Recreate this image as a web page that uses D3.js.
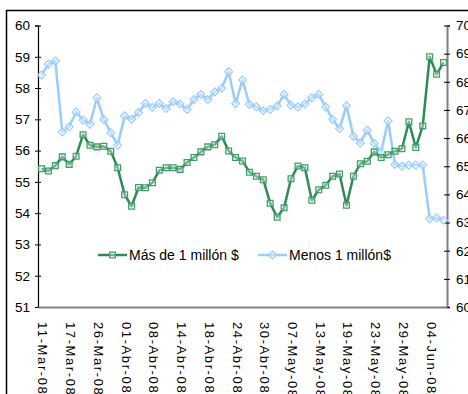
<!DOCTYPE html>
<html>
<head>
<meta charset="utf-8">
<script src="https://cdn.jsdelivr.net/npm/d3@7"></script>
<style>
  html, body { margin: 0; padding: 0; background: #fff; }
  svg { display: block; font-family: "Liberation Sans", Arial, sans-serif; }
</style>
</head>
<body>
<svg id="chart" width="468" height="394"></svg>
<script>
// Category tick labels, one every fourth trading day
const tickLabels = ["11-Mar-08", "17-Mar-08", "26-Mar-08", "01-Abr-08", "08-Abr-08",
  "14-Abr-08", "18-Abr-08", "24-Abr-08", "30-Abr-08", "07-May-08", "13-May-08",
  "19-May-08", "23-May-08", "29-May-08", "04-Jun-08"];
const tickEvery = 4;

// Series: left axis
const masDe1Millon = [
  55.42, 55.35, 55.52, 55.80, 55.56, 55.82, 56.51, 56.17, 56.12, 56.14,
  55.98, 55.45, 54.59, 54.22, 54.82, 54.81, 54.97, 55.37, 55.45, 55.45,
  55.40, 55.62, 55.78, 55.96, 56.12, 56.19, 56.46, 55.99, 55.78, 55.67,
  55.31, 55.18, 55.07, 54.32, 53.87, 54.17, 55.10, 55.51, 55.45, 54.41,
  54.75, 54.89, 55.18, 55.25, 54.25, 55.18, 55.58, 55.66, 55.96, 55.78,
  55.87, 55.98, 56.06, 56.92, 56.10, 56.79, 59.00, 58.44, 58.82
];
// Series: right axis
const menos1Millon = [
  68.24, 68.63, 68.74, 66.22, 66.40, 66.93, 66.64, 66.49, 67.43, 66.66,
  66.19, 65.75, 66.79, 66.67, 66.91, 67.23, 67.09, 67.23, 67.05, 67.29,
  67.21, 67.02, 67.37, 67.55, 67.37, 67.64, 67.77, 68.36, 67.23, 68.06,
  67.20, 67.11, 66.97, 67.02, 67.14, 67.55, 67.17, 67.11, 67.21, 67.43,
  67.55, 67.11, 66.66, 66.34, 67.15, 66.07, 65.83, 66.28, 65.81, 65.51,
  66.61, 65.06, 65.00, 65.04, 65.04, 65.04, 63.14, 63.17, 63.08
];

const leftTicks = d3.range(51, 61);
const rightTicks = d3.range(60, 71);

const svg = d3.select("#chart");
const plot = { left: 38, right: 447, top: 25.5, bottom: 307 };

const greenLine = "#2e8b57";
const greenMark = "#3f9f6a";
const blue = "#99ccff";

// Outer frame
svg.append("rect")
  .attr("x", 6.5).attr("y", 10.5)
  .attr("width", 480).attr("height", 420)
  .attr("fill", "none").attr("stroke", "#000").attr("stroke-width", 1.5);

const x = d3.scaleBand()
  .domain(d3.range(masDe1Millon.length))
  .range([plot.left, plot.right]);
const cx = i => x(i) + x.bandwidth() / 2;

const yL = d3.scaleLinear().domain([51, 60]).range([plot.bottom, plot.top]);
const yR = d3.scaleLinear().domain([60, 70]).range([plot.bottom, plot.top]);

// Left axis
const gL = svg.append("g")
  .attr("transform", `translate(${plot.left},0)`)
  .call(d3.axisLeft(yL).tickValues(leftTicks).tickSize(3).tickPadding(5).tickFormat(d3.format("d")));
gL.select(".domain").attr("stroke", "#000").attr("stroke-width", 1.2);
gL.selectAll(".tick line").attr("x1", 3).attr("x2", -3).attr("stroke", "#000");
gL.selectAll(".tick text").attr("font-size", 13.5).attr("fill", "#000").attr("font-family", null);

// Right axis
const gR = svg.append("g")
  .attr("transform", `translate(${plot.right},0)`)
  .call(d3.axisRight(yR).tickValues(rightTicks).tickSize(3).tickPadding(6).tickFormat(d3.format("d")));
gR.select(".domain").attr("stroke", "#808080").attr("stroke-width", 2);
gR.selectAll(".tick line").attr("x1", -3).attr("x2", 3).attr("stroke", "#000");
gR.selectAll(".tick text").attr("font-size", 13.5).attr("fill", "#000").attr("font-family", null);

// Category axis
const gB = svg.append("g")
  .attr("transform", `translate(0,${plot.bottom})`)
  .call(d3.axisBottom(x)
    .tickValues(d3.range(0, masDe1Millon.length, tickEvery).filter(i => i / tickEvery < tickLabels.length))
    .tickSize(0)
    .tickFormat(i => tickLabels[i / tickEvery]));
gB.select(".domain").attr("stroke", "#808080").attr("stroke-width", 2);
gB.selectAll(".tick text")
  .attr("font-size", 13)
  .attr("fill", "#000")
  .attr("font-family", null)
  .attr("letter-spacing", 1.6)
  .attr("text-anchor", "start")
  .attr("transform", "translate(1.5,15) rotate(90)")
  .attr("x", 0).attr("y", 0).attr("dy", "0.35em");

// Lines
const lineL = d3.line().x((d, i) => cx(i)).y(d => yL(d));
const lineR = d3.line().x((d, i) => cx(i)).y(d => yR(d));

svg.append("path").datum(menos1Millon)
  .attr("d", lineR).attr("fill", "none")
  .attr("stroke", blue).attr("stroke-width", 2.5).attr("stroke-linejoin", "round");
svg.append("g").selectAll("path").data(menos1Millon).join("path")
  .attr("transform", (d, i) => `translate(${cx(i)},${yR(d)})`)
  .attr("d", d3.symbol(d3.symbolDiamond2, 40))
  .attr("fill", "rgba(255,255,255,0.35)").attr("stroke", blue).attr("stroke-width", 1.2);

svg.append("path").datum(masDe1Millon)
  .attr("d", lineL).attr("fill", "none")
  .attr("stroke", greenLine).attr("stroke-width", 2.5).attr("stroke-linejoin", "round");
svg.append("g").selectAll("path").data(masDe1Millon).join("path")
  .attr("transform", (d, i) => `translate(${cx(i)},${yL(d)})`)
  .attr("d", d3.symbol(d3.symbolSquare2, 42))
  .attr("fill", "rgba(255,255,255,0.35)").attr("stroke", greenMark).attr("stroke-width", 1.3);

// Legend
const legend = [
  { name: "Más de 1 millón $", color: greenLine, mark: greenMark, sym: d3.symbolSquare2, size: 42, x0: 98 },
  { name: "Menos 1 millón$", color: blue, mark: blue, sym: d3.symbolDiamond2, size: 40, x0: 258 }
];
const lg = svg.append("g").selectAll("g").data(legend).join("g")
  .attr("transform", d => `translate(${d.x0},255)`);
lg.append("line").attr("x1", 0).attr("x2", 29)
  .attr("stroke", d => d.color).attr("stroke-width", 2.5);
lg.append("path").attr("transform", "translate(14.5,0)")
  .attr("d", d => d3.symbol(d.sym, d.size)())
  .attr("fill", "rgba(255,255,255,0.35)").attr("stroke", d => d.mark).attr("stroke-width", 1.2);
lg.append("text").attr("x", 31).attr("dy", "0.35em")
  .attr("font-size", 14).attr("fill", "#000").text(d => d.name);
</script>
</body>
</html>
